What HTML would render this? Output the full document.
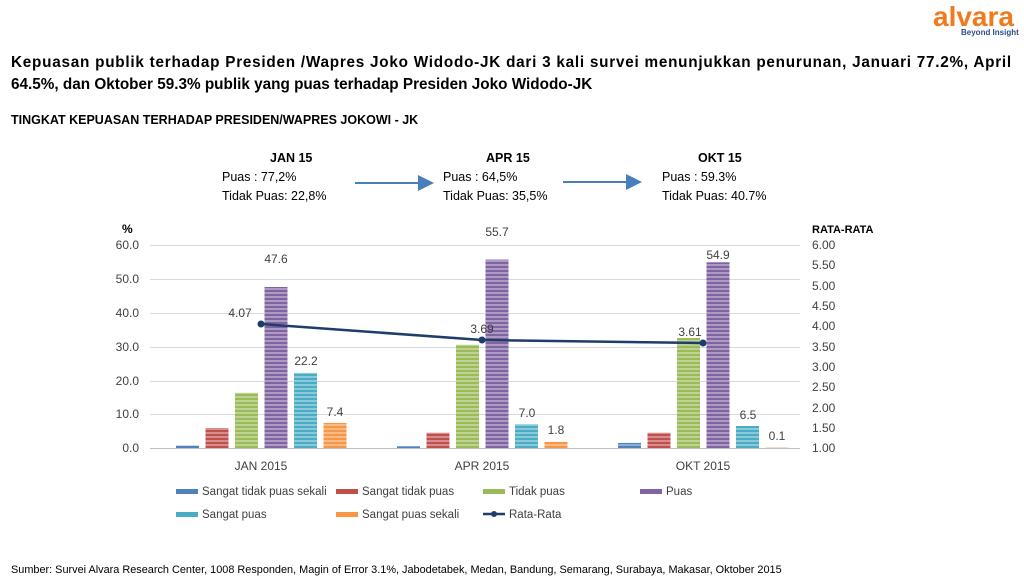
<!DOCTYPE html>
<html><head><meta charset="utf-8"><style>
body{margin:0;width:1024px;height:585px;background:#fff;font-family:"Liberation Sans",sans-serif;position:relative;overflow:hidden;color:#000}
.t{position:absolute;white-space:nowrap}
</style></head><body>
<div class="t" style="left:933px;top:1px;font-size:28px;font-weight:bold;color:#f07a1d">alvara</div>
<div class="t" style="left:961px;top:28px;font-size:8px;font-weight:bold;color:#2a4f8a">Beyond Insight</div>
<div style="position:absolute;left:11px;top:52px;width:1001px;font-size:15.3px;font-weight:bold;line-height:22px">
<div style="white-space:nowrap;letter-spacing:0.75px">Kepuasan publik terhadap Presiden /Wapres Joko Widodo-JK dari 3 kali survei menunjukkan penurunan, Januari 77.2%, April</div>
<div style="white-space:nowrap">64.5%, dan Oktober 59.3% publik yang puas terhadap Presiden Joko Widodo-JK</div>
</div>
<div class="t" style="left:11px;top:113px;font-size:12.5px;font-weight:bold">TINGKAT KEPUASAN TERHADAP PRESIDEN/WAPRES JOKOWI - JK</div>
<div class="t" style="left:222px;top:149px;font-size:12.5px;line-height:19px"><b style="margin-left:48px">JAN 15</b><br>Puas : 77,2%<br>Tidak Puas: 22,8%</div>
<div class="t" style="left:443px;top:149px;font-size:12.5px;line-height:19px"><b style="margin-left:43px">APR 15</b><br>Puas : 64,5%<br>Tidak Puas: 35,5%</div>
<div class="t" style="left:662px;top:149px;font-size:12.5px;line-height:19px"><b style="margin-left:36px">OKT 15</b><br>Puas : 59.3%<br>Tidak Puas: 40.7%</div>
<svg width="1024" height="585" style="position:absolute;left:0;top:0" font-family="Liberation Sans, sans-serif">
<defs>
<marker id="ah" markerWidth="8" markerHeight="8" refX="7" refY="4" orient="auto"><path d="M0,0L8,4L0,8z" fill="#4a7ebb"/></marker>
<pattern id="st" width="4" height="4" patternUnits="userSpaceOnUse"><rect width="4" height="2" fill="#fff" opacity="0.35"/></pattern>
</defs>
<line x1="355" y1="183" x2="432" y2="183" stroke="#4a7ebb" stroke-width="2" marker-end="url(#ah)"/>
<line x1="563" y1="182" x2="640" y2="182" stroke="#4a7ebb" stroke-width="2" marker-end="url(#ah)"/>
<g stroke="#d9d9d9" stroke-width="1">
<line x1="150" y1="245.5" x2="800" y2="245.5"/><line x1="150" y1="279.5" x2="800" y2="279.5"/><line x1="150" y1="313.5" x2="800" y2="313.5"/><line x1="150" y1="347.5" x2="800" y2="347.5"/><line x1="150" y1="381.5" x2="800" y2="381.5"/><line x1="150" y1="414.5" x2="800" y2="414.5"/>
</g>
<line x1="150" y1="448.5" x2="800" y2="448.5" stroke="#bfbfbf"/>
<g font-size="12" fill="#404040" text-anchor="end">
<text x="139" y="249">60.0</text><text x="139" y="283">50.0</text><text x="139" y="317">40.0</text><text x="139" y="351">30.0</text><text x="139" y="385">20.0</text><text x="139" y="418">10.0</text><text x="139" y="452">0.0</text>
</g>
<text x="122" y="233" font-size="12" font-weight="bold">%</text>
<text x="812" y="233" font-size="11" font-weight="bold">RATA-RATA</text>
<g font-size="12" fill="#404040">
<text x="812" y="249">6.00</text><text x="812" y="269">5.50</text><text x="812" y="290">5.00</text><text x="812" y="310">4.50</text><text x="812" y="330">4.00</text><text x="812" y="351">3.50</text><text x="812" y="371">3.00</text><text x="812" y="391">2.50</text><text x="812" y="412">2.00</text><text x="812" y="432">1.50</text><text x="812" y="452">1.00</text>
</g>
<g id="bars"></g>
<polyline points="261,324 482,340 703,343" fill="none" stroke="#1f3d6b" stroke-width="2.5"/>
<circle cx="261" cy="324" r="3.5" fill="#1f3d6b"/><circle cx="482" cy="340" r="3.5" fill="#1f3d6b"/><circle cx="703" cy="343" r="3.5" fill="#1f3d6b"/>
<g font-size="12" fill="#404040" text-anchor="middle">
<text x="240" y="317">4.07</text><text x="482" y="333">3.69</text><text x="690" y="336">3.61</text>
<text x="276" y="263">47.6</text><text x="306" y="365">22.2</text><text x="335" y="416">7.4</text>
<text x="497" y="236">55.7</text><text x="527" y="417">7.0</text><text x="556" y="434">1.8</text>
<text x="718" y="259">54.9</text><text x="748" y="419">6.5</text><text x="777" y="440">0.1</text>
<text x="261" y="470">JAN 2015</text><text x="482" y="470">APR 2015</text><text x="703" y="470">OKT 2015</text>
</g>
<g font-size="11.5" fill="#404040">
<rect x="176" y="489" width="22" height="5" fill="#4f81bd"/><text x="202" y="495">Sangat tidak puas sekali</text>
<rect x="336" y="489" width="22" height="5" fill="#c0504d"/><text x="362" y="495">Sangat tidak puas</text>
<rect x="483" y="489" width="22" height="5" fill="#9bbb59"/><text x="509" y="495">Tidak puas</text>
<rect x="640" y="489" width="22" height="5" fill="#8064a2"/><text x="666" y="495">Puas</text>
<rect x="176" y="512" width="22" height="5" fill="#4bacc6"/><text x="202" y="518">Sangat puas</text>
<rect x="336" y="512" width="22" height="5" fill="#f79646"/><text x="362" y="518">Sangat puas sekali</text>
<line x1="483" y1="514" x2="505" y2="514" stroke="#1f3d6b" stroke-width="2.5"/><circle cx="494" cy="514" r="3" fill="#1f3d6b"/><text x="509" y="518">Rata-Rata</text>
</g>
<text x="11" y="573" font-size="10.9" fill="#000">Sumber: Survei Alvara Research Center, 1008 Responden, Magin of Error 3.1%, Jabodetabek, Medan, Bandung, Semarang, Surabaya, Makasar, Oktober 2015</text>
</svg>
<script>
var cols=["#4f81bd","#c0504d","#9bbb59","#8064a2","#4bacc6","#f79646"];
var v=[[0.7,5.9,16.3,47.6,22.2,7.4],[0.5,4.5,30.5,55.7,7.0,1.8],[1.5,4.5,32.5,54.9,6.5,0.1]];
var g=document.getElementById("bars"),s="";
for(var i=0;i<3;i++)for(var j=0;j<6;j++){var h=v[i][j]*3.383,x=176+i*221+j*29.5,y=448-h;
s+='<rect x="'+x+'" y="'+y+'" width="23" height="'+h+'" fill="'+cols[j]+'"/><rect x="'+x+'" y="'+y+'" width="23" height="'+h+'" fill="url(#st)"/>';}
g.innerHTML=s;
</script>
</body></html>
